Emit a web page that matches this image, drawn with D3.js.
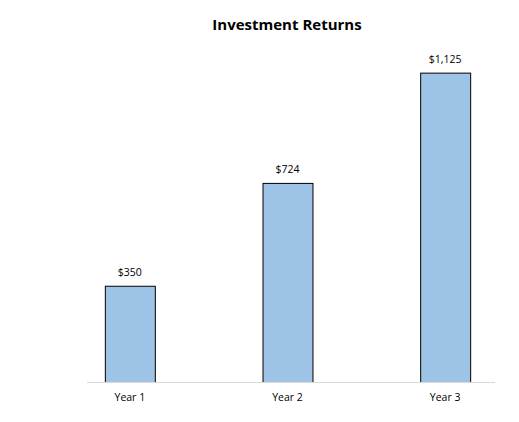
<!DOCTYPE html>
<html><head><meta charset="utf-8">
<script src="https://cdn.jsdelivr.net/npm/d3@7"></script>
<style>body{margin:0;background:#fff;}svg{display:block;font-family:"Open Sans","Noto Sans",sans-serif;}</style>
</head><body>
<script>
const categories = ["Year 1", "Year 2", "Year 3"];
const values = [350, 724, 1125];
const valueLabels = ["$350", "$724", "$1,125"];

const W = 519, H = 422;
const svg = d3.select("body").append("svg").attr("width", W).attr("height", H);

const baseY = 382;
const y = d3.scaleLinear().domain([0, 1200]).range([baseY, baseY - 330]);
const x = d3.scaleBand().domain(categories).range([51, 524]).paddingInner(0.683).paddingOuter(0.3415);

svg.append("text").attr("x", 287).attr("y", 30).attr("text-anchor", "middle")
  .attr("font-size", 15).attr("font-weight", "bold").attr("fill", "#000").text("Investment Returns");

svg.selectAll("rect.bar").data(values).enter().append("rect")
  .attr("x", (d, i) => x(categories[i]) + 0.5)
  .attr("y", d => y(d) + 0.5)
  .attr("width", x.bandwidth())
  .attr("height", d => baseY - y(d))
  .attr("fill", "#9DC3E6").attr("stroke", "#000").attr("stroke-width", 1);

svg.append("line").attr("x1", 87).attr("x2", 495).attr("y1", baseY + 0.5).attr("y2", baseY + 0.5)
  .attr("stroke", "#d9d9d9").attr("stroke-width", 1);

svg.selectAll("text.val").data(values).enter().append("text")
  .attr("x", (d, i) => x(categories[i]) + x.bandwidth() / 2)
  .attr("y", d => y(d) - 10)
  .attr("text-anchor", "middle").attr("font-size", 10.5).attr("fill", "#000")
  .text((d, i) => valueLabels[i]);

const axis = d3.axisBottom(x).tickSize(0).tickPadding(12);
const g = svg.append("g").attr("transform", `translate(0,${baseY})`).call(axis);
g.select(".domain").remove();
g.selectAll("text").attr("font-size", 10.5).attr("fill", "#000").attr("font-family", "'Open Sans','Noto Sans',sans-serif");
</script>
</body></html>
